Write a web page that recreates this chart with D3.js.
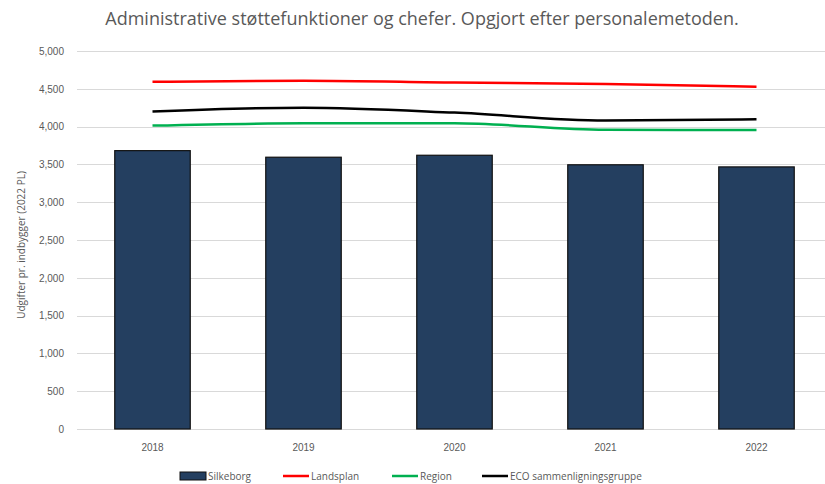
<!DOCTYPE html>
<html lang="da">
<head>
<meta charset="UTF-8">
<title>Administrative støttefunktioner og chefer</title>
<script src="https://cdn.jsdelivr.net/npm/d3@7"></script>
<style>
    body { margin: 0; background: #fff; }
    svg { display: block; font-family: "Open Sans", "Liberation Sans", sans-serif; }
    .grid line { stroke: #d9d9d9; }
    .line { fill: none; stroke-width: 2.5px; }
</style>
</head>
<body>
<script>
    // data
    const years = ["2018", "2019", "2020", "2021", "2022"];
    const silkeborg = [3682, 3595, 3621, 3495, 3467];
    const landsplan = [4592, 4608, 4583, 4562, 4528];
    const region = [4013, 4044, 4044, 3958, 3956];
    const eco = [4200, 4250, 4185, 4080, 4097];
    const yTicks = [0, 500, 1000, 1500, 2000, 2500, 3000, 3500, 4000, 4500, 5000];

    const width = 825, height = 484;
    const margin = { top: 51, right: -7, bottom: 55, left: 77 };

    const svg = d3.select("body").append("svg")
        .attr("width", width)
        .attr("height", height);

    const x = d3.scaleBand()
        .domain(years)
        .range([margin.left, width - margin.right])
        .paddingInner(0.5)
        .paddingOuter(0.25);

    const y = d3.scaleLinear()
        .domain([0, 5000])
        .range([height - margin.bottom, margin.top]);

    // gridlines
    svg.append("g")
        .attr("class", "grid")
        .selectAll("line")
        .data(yTicks)
        .join("line")
        .attr("x1", margin.left)
        .attr("x2", width)
        .attr("y1", d => Math.round(y(d)) + 0.5)
        .attr("y2", d => Math.round(y(d)) + 0.5);

    // y axis labels
    const yAxis = svg.append("g")
        .attr("transform", `translate(${margin.left - 10},0)`)
        .call(d3.axisLeft(y).tickValues(yTicks).tickSize(0).tickFormat(d3.format(",")));
    yAxis.select(".domain").remove();
    yAxis.selectAll("text").attr("fill", "#595959").style("font-size", "10px");

    // x axis labels
    const xAxis = svg.append("g")
        .attr("transform", `translate(0,${height - margin.bottom + 12})`)
        .call(d3.axisBottom(x).tickSize(0));
    xAxis.select(".domain").remove();
    xAxis.selectAll("text").attr("fill", "#595959").style("font-size", "10px");

    // bars
    svg.append("g")
        .selectAll("rect")
        .data(silkeborg)
        .join("rect")
        .attr("x", (d, i) => x(years[i]))
        .attr("y", d => y(d))
        .attr("width", x.bandwidth())
        .attr("height", d => y(0) - y(d))
        .attr("fill", "#243f60")
        .attr("stroke", "#111")
        .attr("stroke-width", 1.2);

    // lines
    const line = d3.line()
        .x((d, i) => x(years[i]) + x.bandwidth() / 2)
        .y(d => y(d))
        .curve(d3.curveMonotoneX);

    const series = [
        { name: "Landsplan", values: landsplan, color: "#ff0000" },
        { name: "Region", values: region, color: "#00b050" },
        { name: "ECO sammenligningsgruppe", values: eco, color: "#000000" }
    ];

    series.forEach(s => {
        svg.append("path")
            .datum(s.values)
            .attr("class", "line")
            .attr("stroke", s.color)
            .attr("d", line);
    });

    // title
    svg.append("text")
        .attr("x", 422)
        .attr("y", 25)
        .attr("text-anchor", "middle")
        .attr("fill", "#595959")
        .style("font-size", "18px")
        .text("Administrative støttefunktioner og chefer. Opgjort efter personalemetoden.");

    // y axis title
    svg.append("text")
        .attr("transform", `translate(25,${(y(0) + y(5000)) / 2 + 5}) rotate(-90)`)
        .attr("text-anchor", "middle")
        .attr("fill", "#595959")
        .style("font-size", "10px")
        .text("Udgifter pr. indbygger (2022 PL)");

    // legend
    const legendY = 476;
    svg.append("rect")
        .attr("x", 180).attr("y", legendY - 4)
        .attr("width", 26).attr("height", 8)
        .attr("fill", "#243f60").attr("stroke", "#111");
    svg.append("text").attr("x", 208).attr("y", legendY + 4)
        .attr("fill", "#595959").style("font-size", "10px").text("Silkeborg");

    const legendX = [283, 392, 482];
    series.forEach((s, i) => {
        svg.append("line")
            .attr("x1", legendX[i]).attr("x2", legendX[i] + 26)
            .attr("y1", legendY).attr("y2", legendY)
            .attr("stroke", s.color).attr("stroke-width", 2.5);
        svg.append("text").attr("x", legendX[i] + 28).attr("y", legendY + 4)
            .attr("fill", "#595959").style("font-size", "10px").text(s.name);
    });
</script>
</body>
</html>
